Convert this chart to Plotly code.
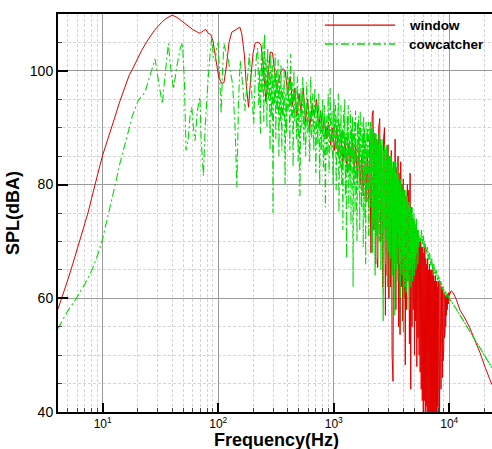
import plotly.graph_objects as go

# ---------------- data ----------------
# window (red, solid)
window_freq_low = [4.1, 4.3, 4.6, 5, 5.5, 6, 6.5, 7, 7.5, 8, 8.5, 9, 9.5, 10, 11, 12, 13, 14, 15, 16, 17, 18,
                   20, 22, 24, 26, 28, 30, 33, 36, 40, 44, 48, 52, 56, 60, 65, 69.5, 74, 78, 82, 86, 90, 95,
                   101, 107, 112, 118, 124, 131, 140, 148, 154, 160, 168, 175, 183, 190, 200, 208, 215, 225,
                   235, 245, 259, 270, 282, 295, 305, 320, 335, 350, 365]
window_spl_low = [58.1, 59.3, 61, 63.3, 66, 68.5, 70.8, 73, 75.2, 77.5, 79.8, 81.7, 83.5, 85.2, 87.7, 90.1,
                  92.4, 94.5, 96.3, 97.9, 99.3, 100.2, 102.2, 103.8, 105.1, 106.2, 107.1, 107.8, 108.7,
                  109.3, 109.8, 109.4, 108.8, 108.3, 107.8, 107.3, 106.9, 106.6, 107, 107.3, 106.6, 106.4,
                  105.3, 102, 98.9, 97.8, 97.9, 101, 105, 106.8, 107.2, 107.6, 107.7, 106.5, 103, 97.5, 93.6,
                  98, 103, 104.8, 105, 105, 104.5, 101, 94.5, 99, 103.3, 103.2, 100, 96.8, 98.5, 100, 100.4]
window_freq_mid = [380, 400, 420, 440, 460, 480, 500, 520, 545, 570, 595, 620, 650, 680, 710, 740, 770, 800,
                   830, 860, 900, 940, 980, 1020, 1060, 1100, 1150, 1200, 1250, 1300, 1350, 1400, 1450, 1500,
                   1550, 1600, 1650, 1700, 1750, 1800, 1850, 1900, 1950, 2000, 2050, 2100, 2150, 2190, 2230,
                   2270, 2310, 2350, 2400, 2450, 2500, 2550, 2600, 2650, 2700, 2750, 2800, 2850, 2900, 2950,
                   3000, 3050, 3100, 3150, 3200, 3260, 3300, 3350, 3400, 3450, 3500, 3550, 3600, 3650, 3700,
                   3750, 3800, 3850, 3900, 3950, 4000, 4050, 4100, 4160, 4220, 4280, 4340, 4400, 4460, 4520,
                   4580, 4640, 4700, 4760, 4820, 4880, 4940, 5000, 5060, 5120, 5180, 5240]
window_spl_mid = [100, 96, 99, 94, 97, 92, 96, 93, 97, 91, 95, 90, 94, 92, 95, 90, 93, 89, 92, 88, 91, 87, 90,
                  86, 90, 85, 89, 84, 88, 83, 87, 84, 88, 82, 87, 81, 86, 80, 85, 78, 84, 77, 85, 76, 88, 68,
                  92, 93, 72, 89, 66, 88, 65.4, 90, 91.6, 70, 86, 62, 88, 90, 57, 86, 64, 87, 60, 85, 62, 86,
                  50, 45.4, 84, 70, 88, 58, 83, 66, 85, 55, 82, 53.6, 84, 62, 80, 56, 81, 60, 79, 48.3, 78, 58,
                  80, 63, 79, 52, 82, 44, 76, 55, 74, 58, 73, 50, 72, 56, 72, 48]
window_freq_high = [5300, 5360, 5420, 5480, 5540, 5600, 5660, 5720, 5780, 5840, 5900, 5960, 6020, 6080, 6140,
                    6200, 6260, 6320, 6380, 6440, 6500, 6560, 6620, 6680, 6740, 6800, 6860, 6920, 6980, 7040,
                    7100, 7160, 7220, 7280, 7340, 7400, 7460, 7520, 7580, 7640, 7700, 7760, 7820, 7880, 7940,
                    8000, 8060, 8120, 8180, 8240, 8300, 8360, 8420, 8480, 8540, 8600, 8660, 8720, 8780, 8840,
                    8900, 8960, 9020, 9080, 9140, 9200, 9260, 9320, 9380, 9440, 9500, 9600, 9700, 9800, 9900,
                    10000, 10400, 10800, 11500, 12400, 13500, 15000, 16500, 18400, 20500, 23400]
window_spl_high = [71.8, 53, 71, 50, 70, 47, 70, 44, 69, 42, 69, 40, 68, 42, 69, 38, 67, 41, 66, 37, 67, 40,
                   65, 38, 66, 36, 65, 39, 65, 37, 64, 38, 65, 36, 64, 39, 63, 37, 64, 40, 63, 38, 63, 41, 62,
                   39, 63, 42, 62, 40, 63, 45, 62, 44, 62, 47, 61, 46, 62, 49, 61, 51, 61, 53, 60.5, 54, 60.5,
                   55, 60, 57, 60.5, 58, 60.8, 59, 61, 60.5, 61.3, 61, 59.8, 57.9, 56.7, 54.9, 52.8, 50.5,
                   47.8, 44.8]

# cowcatcher (green, dash-dot)
cow_freq_low = [4.1, 5, 6, 7, 8, 9, 10, 11, 12, 13, 14, 15, 16.5, 18, 20.3, 23.2, 26, 28.4, 30.5, 32.8, 35,
                37, 39, 41, 44, 47, 49, 51, 52.6, 55, 57, 59, 61, 63, 66, 69.5, 71, 72.5, 74.5, 77, 80, 82,
                85, 88, 91, 94, 97, 100, 103, 106, 109, 112, 116, 121, 127, 133, 140, 145, 150, 155, 162,
                170, 178, 186, 195, 203, 210, 215]
cow_spl_low = [54.7, 57.8, 60.2, 62.5, 64.8, 67.5, 70.5, 74, 77.5, 80.5, 83.5, 86, 89, 92, 94.8, 96.2, 99.5,
               102.1, 98, 94.2, 100, 104.8, 100, 96.8, 101, 104, 105, 98, 86, 88, 92, 93.6, 90, 87.7, 93,
               95.4, 88.3, 85, 81.5, 90, 96, 98.9, 103, 105.9, 102, 101.8, 104, 105, 99, 92.5, 100, 104.8,
               103.5, 102.4, 100, 97.8, 90, 79.5, 95, 101.8, 98, 93, 98, 103, 96, 90.7, 100, 103]
cow_freq_mid = [220, 224, 228, 232, 236, 240, 244, 248, 252, 256, 260, 264, 268, 272, 277, 281, 285, 290, 294,
                298, 302, 307, 311, 315, 320, 325, 330, 335, 340, 345, 350, 355, 360, 366, 372, 379, 385,
                391, 397, 403, 410, 417, 424, 431, 438, 445, 452, 460, 468, 476, 484, 492, 500, 510, 520,
                530, 540, 550, 560, 572, 584, 596, 608, 620, 632, 645, 658, 672, 686, 700, 714, 728, 742,
                756, 770, 785, 800, 815, 830, 846, 862, 878, 895, 912, 930, 948, 966, 985, 1005, 1020, 1035,
                1050, 1065, 1080, 1095, 1110, 1125, 1140, 1155, 1170, 1185, 1200, 1215, 1230, 1245, 1260,
                1275, 1290, 1305, 1320, 1335, 1350, 1365, 1380, 1395, 1410, 1425, 1440, 1455, 1470, 1485,
                1500, 1515, 1530, 1545, 1560, 1575, 1590, 1605, 1620, 1635, 1650, 1665, 1680, 1695, 1710,
                1725, 1740, 1755, 1770, 1785, 1800, 1815, 1830, 1845, 1860, 1875, 1890, 1905, 1920, 1935,
                1950, 1965, 1980, 1995, 2010]
cow_spl_mid = [104, 94, 100, 89, 103, 96, 105, 91, 106.5, 97, 102, 90, 104, 95, 100, 86, 103, 92, 101, 75, 99,
               94, 103, 88, 100, 93, 102, 85, 99, 91, 101, 86, 97, 92, 100, 80, 96, 89, 102, 93, 99, 86,
               103, 92, 98, 83, 100, 91, 97, 88, 99, 84, 96, 78, 97, 90, 99, 87, 95, 85, 98, 89, 94, 84,
               99, 88, 96, 86, 97, 82, 94, 87, 96, 80, 93, 86, 95, 83, 94, 76, 92, 85, 96, 82, 97, 86, 93,
               80, 95, 88, 94, 79, 92, 85, 96, 75, 91, 83, 94, 80, 90, 72, 93, 84, 95, 78, 89, 67, 92, 82,
               94, 76, 88, 81, 93, 73, 90, 84, 92, 62, 89, 80, 91, 75, 93, 83, 88, 70, 91, 79, 92, 85, 90,
               72, 93, 80, 88, 76, 91, 84, 89, 69, 92, 81, 90, 74, 88, 66, 91, 82, 87, 77, 90, 83, 91, 71]
cow_freq_dense = [2010, 2025, 2040, 2055, 2070, 2085, 2100, 2115, 2130, 2145, 2160, 2175, 2190, 2205, 2220,
                  2235, 2250, 2265, 2280, 2295, 2310, 2325, 2340, 2355, 2370, 2385, 2400, 2420, 2440, 2460,
                  2480, 2500, 2520, 2540, 2560, 2580, 2600, 2620, 2640, 2660, 2680, 2700, 2720, 2740, 2760,
                  2780, 2800, 2820, 2840, 2860, 2880, 2900, 2920, 2940, 2960, 2980, 3000, 3020, 3040, 3060,
                  3080, 3100, 3125, 3150, 3175, 3200, 3225, 3250, 3275, 3300, 3325, 3350, 3375, 3400, 3425,
                  3450, 3475, 3500, 3530, 3560, 3590, 3620, 3650, 3680, 3710, 3740, 3770, 3800, 3830, 3860,
                  3890, 3920, 3950, 3980, 4010, 4040, 4070, 4100, 4130, 4160, 4190, 4220, 4250, 4280, 4310,
                  4340, 4370, 4400, 4430, 4460, 4500, 4540, 4580, 4620, 4660, 4700, 4740, 4780, 4820, 4860,
                  4900, 4940, 4980, 5020, 5060, 5100, 5150, 5200, 5250, 5300, 5350, 5400, 5450, 5500, 5560]
cow_spl_dense = [71, 88, 80, 90, 85, 91, 76, 89, 81, 90, 68, 88, 79, 90, 73, 87, 82, 89, 64, 88, 77, 89, 71,
                 86, 80, 88, 67, 87, 75, 89, 70, 86, 79, 88, 65, 87, 74, 88, 69, 85, 56, 86, 72, 87, 77, 85,
                 66, 86, 73, 87, 70, 84, 62, 86, 75, 85, 68, 84, 60, 85, 72, 84, 67, 85, 74, 83, 64, 84, 70,
                 83, 66, 84, 57, 82, 71, 84, 65, 82, 72, 83, 63, 81, 69, 82, 66, 80, 60, 81, 70, 80, 64, 79,
                 68, 80, 54, 78, 67, 79, 62, 78, 69, 79, 61, 77, 66, 78, 63, 77, 68, 76, 58, 77, 65, 76, 62,
                 75, 67, 76, 63, 74, 66, 75, 64, 74, 67, 73, 65, 74, 68, 72, 66, 72, 69, 71, 70.5]
cow_freq_high = [5560, 5650, 5750, 5850, 5950, 6050, 6150, 6300, 6450, 6600, 6750, 6900, 7050, 7200, 7350,
                 7500, 7700, 7900, 8100, 8300, 8500, 8700, 8900, 9100, 9300, 9500, 9700, 10000, 11200, 12400,
                 13500, 15000, 16500, 18400, 20500, 23400]
cow_spl_high = [70.5, 70, 72, 69.5, 71, 68.8, 70, 67.8, 69, 66.8, 68, 65.8, 67, 65, 66, 64.2, 65, 63.2, 64,
                62.5, 63, 61.5, 62, 60.8, 61.2, 60.2, 60.6, 60, 58.5, 57, 55.8, 54.3, 52.9, 51.3, 49.8, 47.8]

window_freq = window_freq_low + window_freq_mid + window_freq_high
window_spl = window_spl_low + window_spl_mid + window_spl_high
cow_freq_sparse = cow_freq_low + cow_freq_mid
cow_spl_sparse = cow_spl_low + cow_spl_mid
cow_freq_tail = cow_freq_dense + cow_freq_high[1:]
cow_spl_tail = cow_spl_dense + cow_spl_high[1:]

series_names = ["window", "cowcatcher"]
x_tick_vals = [10, 100, 1000, 10000]
x_tick_text = ["10<sup>1</sup>", "10<sup>2</sup>", "10<sup>3</sup>", "10<sup>4</sup>"]
y_tick_vals = [40, 60, 80, 100]

RED = "#e20000"
GREEN = "#00dd00"
DASHDOT = "8px,3px,2px,3px"
FONT = "Liberation Sans, Arial"

fig = go.Figure()
fig.add_trace(go.Scatter(x=window_freq, y=window_spl, mode="lines", name=series_names[0],
                         line=dict(color=RED, width=1.0), showlegend=False))
fig.add_trace(go.Scatter(x=cow_freq_sparse, y=cow_spl_sparse, mode="lines", name=series_names[1],
                         legendgroup="cow", line=dict(color=GREEN, width=1.1, dash=DASHDOT),
                         showlegend=False))
fig.add_trace(go.Scatter(x=cow_freq_tail, y=cow_spl_tail, mode="lines", name=series_names[1],
                         legendgroup="cow", line=dict(color=GREEN, width=1.2, dash="8px,1px,2px,1px"),
                         showlegend=False))

minor_x = [m * 10 ** e for e in range(0, 5) for m in range(2, 10)]
minor_y = [45, 50, 55, 65, 70, 75, 85, 90, 95, 105]

fig.update_xaxes(type="log", range=[0.613, 4.370],
                 tickmode="array", tickvals=x_tick_vals, ticktext=x_tick_text,
                 ticks="inside", ticklen=9, tickwidth=2, tickcolor="black",
                 showline=True, linecolor="black", linewidth=2, mirror=True,
                 showgrid=True, gridcolor="#9a9a9a", gridwidth=1,
                 minor=dict(tickmode="array", tickvals=minor_x, ticks="inside", ticklen=4,
                            tickcolor="#444", tickwidth=1, showgrid=True, gridcolor="#d4d4d4",
                            griddash="3px,2px", gridwidth=1),
                 tickfont=dict(family=FONT, size=12, color="black"),
                 zeroline=False)
fig.update_yaxes(range=[40, 110], tickmode="array", tickvals=y_tick_vals,
                 ticks="inside", ticklen=10, tickwidth=2, tickcolor="black",
                 showline=True, linecolor="black", linewidth=2, mirror=False,
                 showgrid=True, gridcolor="#9a9a9a", gridwidth=1,
                 minor=dict(tickmode="array", tickvals=minor_y, ticks="inside", ticklen=4,
                            tickcolor="#444", tickwidth=1, showgrid=True, gridcolor="#d4d4d4",
                            griddash="3px,2px", gridwidth=1),
                 tickfont=dict(family=FONT, size=14, color="black"),
                 title=dict(text="<b>SPL(dBA)</b>", standoff=6,
                            font=dict(family=FONT, size=18, color="black")),
                 zeroline=False)

# x-axis title placed just under the tick labels, as in the reference
fig.add_annotation(xref="paper", yref="paper", x=0.503, y=-0.0705, text="<b>Frequency(Hz)</b>",
                   showarrow=False, xanchor="center", yanchor="middle",
                   font=dict(family=FONT, size=18, color="black"))

# legend drawn at the reference position
leg = [(series_names[0], RED, "solid", 0.972), (series_names[1], GREEN, DASHDOT, 0.9246)]
for name, col, dash, yy in leg:
    fig.add_shape(type="line", xref="paper", yref="paper", x0=0.615, x1=0.7765, y0=yy, y1=yy,
                  line=dict(color=col, width=1.3, dash=dash))
    fig.add_annotation(xref="paper", yref="paper", x=0.803, y=yy, text="<b>%s</b>" % name,
                       showarrow=False, xanchor="left", yanchor="middle",
                       font=dict(family=FONT, size=13.5, color="black"))

fig.update_layout(width=492, height=449, margin=dict(l=58, r=0, t=14, b=37),
                  paper_bgcolor="white", plot_bgcolor="white", showlegend=False)

fig.write_html("out.html")
